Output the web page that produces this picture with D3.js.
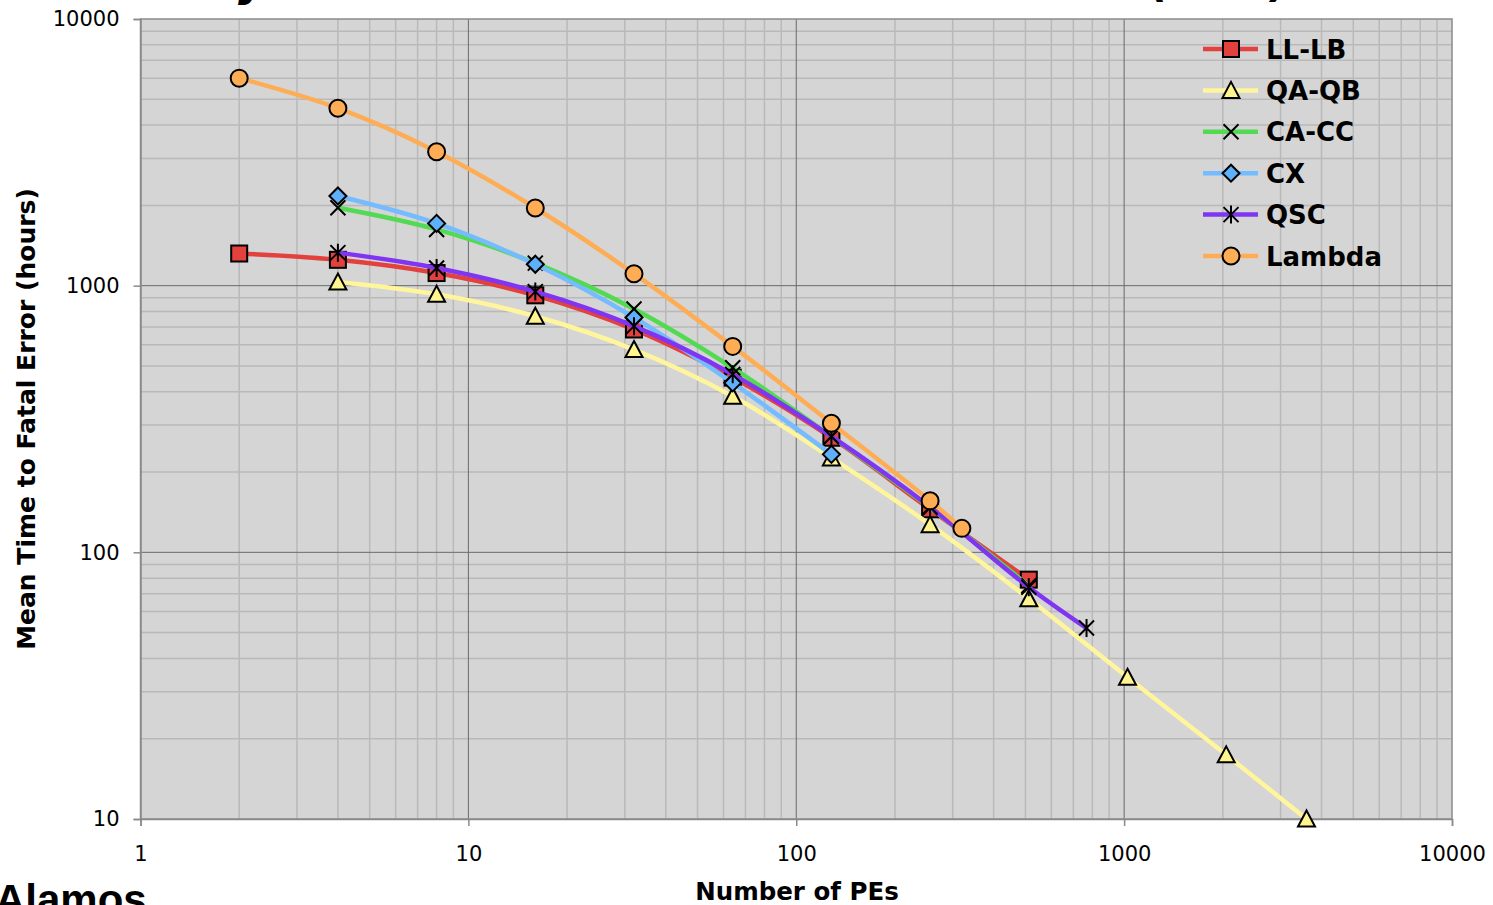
<!DOCTYPE html>
<html>
<head>
<meta charset="utf-8">
<script src="https://cdn.jsdelivr.net/npm/d3@7/dist/d3.min.js"></script>
<style>
  body { margin: 0; background: #fff; }
  svg { display: block; }
</style>
</head>
<body>
<div id="chart"></div>
<script>
// series data (x = number of PEs, y = MTTF in hours)
var llX = [2, 4, 8, 16, 32, 64, 128, 256, 512];
var llY = [1320, 1250, 1115, 920, 685, 452, 269, 145, 79];

var qaX = [4, 8, 16, 32, 64, 128, 256, 512, 1024, 2048, 3600];
var qaY = [1032, 928, 768, 576, 385, 226, 127, 67, 34, 17.4, 10];

var caX = [4, 8, 16, 32, 64, 128, 256, 512];
var caY = [1960, 1625, 1215, 818, 492, 272, 147, 75];

var cxX = [4, 8, 16, 32, 64, 128];
var cxY = [2170, 1712, 1203, 760, 432, 233];

var qscX = [4, 8, 16, 32, 64, 128, 256, 512, 768];
var qscY = [1330, 1165, 950, 705, 465, 272, 148, 74, 52];

var lamX = [2, 4, 8, 16, 32, 64, 128, 256, 320];
var lamY = [6000, 4630, 3180, 1955, 1109, 592, 305, 156, 123];

var seriesNames = ["LL-LB", "QA-QB", "CA-CC", "CX", "QSC", "Lambda"];
var xTicks = [1, 10, 100, 1000, 10000];
var yTicks = [10, 100, 1000, 10000];

var lineColors = ["#e2413d", "#fff59c", "#52da52", "#74bbff", "#7f35f2", "#ffad55"];
var fillColors = ["#e2413d", "#fff48e", "#52da52", "#5eb0fa", "#7f35f2", "#ffad55"];
var markerTypes = ["square", "triangle", "cross", "diamond", "asterisk", "circle"];

var series = [
  { xs: llX, ys: llY }, { xs: qaX, ys: qaY }, { xs: caX, ys: caY },
  { xs: cxX, ys: cxY }, { xs: qscX, ys: qscY }, { xs: lamX, ys: lamY }
];
series.forEach(function (s, i) {
  s.name = seriesNames[i];
  s.points = s.xs.map(function (x, j) { return { x: x, y: s.ys[j] }; });
});

var width = 1493, height = 905;
var plot = { left: 140.5, right: 1452, top: 19, bottom: 819 };

var svg = d3.select("#chart").append("svg")
  .attr("width", width)
  .attr("height", height);

var xScale = d3.scaleLog().domain([1, 10000]).range([plot.left, plot.right]);
var yScale = d3.scaleLog().domain([10, 10000]).range([plot.bottom, plot.top]);

// cropped slide title (only descenders show) and logo text
svg.append("g")
  .attr("font-family", "DejaVu Sans")
  .attr("font-weight", "bold")
  .attr("font-style", "italic")
  .attr("font-size", 44)
  .selectAll("text")
  .data([{ t: "y", x: 238 }, { t: "(", x: 1150 }, { t: ")", x: 1270 }])
  .enter().append("text")
  .attr("x", function (d) { return d.x; })
  .attr("y", -4)
  .text(function (d) { return d.t; });

svg.append("text")
  .attr("x", -5)
  .attr("y", 914)
  .attr("font-family", "Liberation Sans")
  .attr("font-weight", "bold")
  .attr("font-size", 42)
  .text("Alamos");

// plot background
svg.append("rect")
  .attr("x", plot.left).attr("y", plot.top)
  .attr("width", plot.right - plot.left)
  .attr("height", plot.bottom - plot.top)
  .attr("fill", "#d5d5d5");

function isMajor(v) {
  var l = Math.log10(v);
  return Math.abs(l - Math.round(l)) < 1e-9;
}

var grid = svg.append("g");
var xGrid = xScale.ticks().filter(function (v) { return v > 1 && v < 10000; });
var yGrid = yScale.ticks().filter(function (v) { return v > 10 && v < 10000; });

grid.selectAll(".xminor")
  .data(xGrid.filter(function (v) { return !isMajor(v); }))
  .enter().append("line")
  .attr("x1", function (d) { return xScale(d); })
  .attr("x2", function (d) { return xScale(d); })
  .attr("y1", plot.top).attr("y2", plot.bottom)
  .attr("stroke", "#b9b9b9").attr("stroke-width", 1.5);

grid.selectAll(".yminor")
  .data(yGrid.filter(function (v) { return !isMajor(v); }))
  .enter().append("line")
  .attr("y1", function (d) { return yScale(d); })
  .attr("y2", function (d) { return yScale(d); })
  .attr("x1", plot.left).attr("x2", plot.right)
  .attr("stroke", "#b9b9b9").attr("stroke-width", 1.5);

grid.selectAll(".xmajor")
  .data(xGrid.filter(isMajor))
  .enter().append("line")
  .attr("x1", function (d) { return xScale(d); })
  .attr("x2", function (d) { return xScale(d); })
  .attr("y1", plot.top).attr("y2", plot.bottom)
  .attr("stroke", "#6a6a6a").attr("stroke-width", 1);

grid.selectAll(".ymajor")
  .data(yGrid.filter(isMajor))
  .enter().append("line")
  .attr("y1", function (d) { return yScale(d); })
  .attr("y2", function (d) { return yScale(d); })
  .attr("x1", plot.left).attr("x2", plot.right)
  .attr("stroke", "#6a6a6a").attr("stroke-width", 1);

// plot frame
svg.append("rect")
  .attr("x", plot.left).attr("y", plot.top)
  .attr("width", plot.right - plot.left)
  .attr("height", plot.bottom - plot.top)
  .attr("fill", "none")
  .attr("stroke", "#8a8a8a")
  .attr("stroke-width", 1.5);

// axes
var xAxis = d3.axisBottom(xScale)
  .tickValues(xTicks)
  .tickFormat(d3.format("d"))
  .tickSize(7)
  .tickPadding(20);

var yAxis = d3.axisLeft(yScale)
  .tickValues(yTicks)
  .tickFormat(d3.format("d"))
  .tickSize(7)
  .tickPadding(14);

var gx = svg.append("g")
  .attr("transform", "translate(0," + plot.bottom + ")")
  .call(xAxis);
var gy = svg.append("g")
  .attr("transform", "translate(" + plot.left + ",0)")
  .call(yAxis);

[gx, gy].forEach(function (g) {
  g.select(".domain").attr("stroke", "#8a8a8a").attr("stroke-width", 1.5);
  g.selectAll(".tick line").attr("stroke", "#8a8a8a").attr("stroke-width", 1.5);
  g.selectAll(".tick text")
    .attr("fill", "#000")
    .attr("font-family", "DejaVu Sans")
    .attr("font-size", 21);
});

// axis titles
svg.append("text")
  .attr("x", 797)
  .attr("y", 900)
  .attr("text-anchor", "middle")
  .attr("font-family", "DejaVu Sans")
  .attr("font-weight", "bold")
  .attr("font-size", 24.5)
  .text("Number of PEs");

svg.append("text")
  .attr("transform", "translate(35,419) rotate(-90)")
  .attr("text-anchor", "middle")
  .attr("font-family", "DejaVu Sans")
  .attr("font-weight", "bold")
  .attr("font-size", 25)
  .text("Mean Time to Fatal Error (hours)");

// marker drawing
function drawMarker(g, type, fill) {
  var s = 8;
  if (type == "square") {
    g.append("rect").attr("x", -s).attr("y", -s).attr("width", 2 * s).attr("height", 2 * s)
      .attr("fill", fill).attr("stroke", "#000").attr("stroke-width", 2);
  } else if (type == "triangle") {
    g.append("path").attr("d", "M0,-8.5L8.5,7.5L-8.5,7.5Z")
      .attr("fill", fill).attr("stroke", "#000").attr("stroke-width", 2)
      .attr("stroke-linejoin", "miter");
  } else if (type == "diamond") {
    g.append("path").attr("d", "M0,-8.5L8.5,0L0,8.5L-8.5,0Z")
      .attr("fill", fill).attr("stroke", "#000").attr("stroke-width", 2);
  } else if (type == "circle") {
    g.append("circle").attr("r", 8.5)
      .attr("fill", fill).attr("stroke", "#000").attr("stroke-width", 2);
  } else {
    var c = 7.5;
    var d = "M" + -c + "," + -c + "L" + c + "," + c + "M" + c + "," + -c + "L" + -c + "," + c;
    if (type == "asterisk") d += "M0,-9L0,9";
    g.append("path").attr("d", d)
      .attr("fill", "none").attr("stroke", "#000").attr("stroke-width", 2);
  }
}

var line = d3.line()
  .x(function (d) { return xScale(d.x); })
  .y(function (d) { return yScale(d.y); })
  .curve(d3.curveCatmullRom.alpha(0.5));

var seriesG = svg.append("g");
series.forEach(function (s, i) {
  var g = seriesG.append("g");
  g.append("path")
    .datum(s.points)
    .attr("d", line)
    .attr("fill", "none")
    .attr("stroke", lineColors[i])
    .attr("stroke-width", 4.5)
    .attr("stroke-linejoin", "round");
  g.selectAll(".pt")
    .data(s.points)
    .enter().append("g")
    .attr("transform", function (d) { return "translate(" + xScale(d.x) + "," + yScale(d.y) + ")"; })
    .each(function () { drawMarker(d3.select(this), markerTypes[i], fillColors[i]); });
});

// legend
var legend = svg.append("g").attr("transform", "translate(1203,49)");
series.forEach(function (s, i) {
  var row = legend.append("g").attr("transform", "translate(0," + (i * 41.4) + ")");
  row.append("line")
    .attr("x1", 0).attr("x2", 55)
    .attr("stroke", lineColors[i]).attr("stroke-width", 4.5);
  drawMarker(row.append("g").attr("transform", "translate(28,0)"), markerTypes[i], fillColors[i]);
  row.append("text")
    .attr("x", 63)
    .attr("y", 9.5)
    .attr("font-family", "DejaVu Sans")
    .attr("font-weight", "bold")
    .attr("font-size", 26)
    .text(s.name);
});
</script>
</body>
</html>
